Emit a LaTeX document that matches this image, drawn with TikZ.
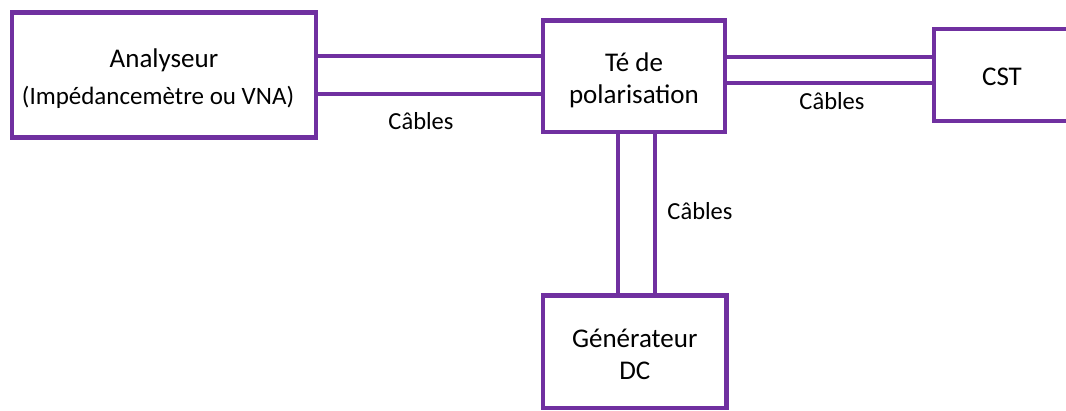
\documentclass[tikz,border=0pt]{standalone}
\usepackage{fontspec}
\setmainfont{Carlito}
\usepackage{xcolor}
\usepackage{tikz}
\usetikzlibrary{positioning, calc}
\definecolor{boxPurple}{RGB}{112, 48, 160}

\begin{document}
\begin{tikzpicture}[
    x=1pt, y=-1pt,
    font=\fontsize{27}{32}\selectfont,
    blk/.style={rectangle, draw=boxPurple, line width=4.5pt, align=center,
        fill=white, inner sep=0pt},
    cable/.style={draw=boxPurple, line width=4.5pt},
    lbl/.style={font=\fontsize{24.5}{29}\selectfont}
]
\useasboundingbox (0,0) rectangle (1066,410);

\node[blk, minimum width=304pt, minimum height=125pt] (ana) at (164,75)
    {\rule{0pt}{27pt}Analyseur\\[5pt]{\fontsize{25}{30}\selectfont (Impédancemètre ou VNA)\hspace*{12pt}}};
\node[blk, minimum width=182pt, minimum height=111.5pt] (te)  at (634,76.25) {\rule{0pt}{26pt}Té de\\polarisation};
\node[blk, minimum width=136pt, minimum height=92pt]    (cst) at (1002,75)   {\rule{0pt}{21pt}CST};
\node[blk, minimum width=183.5pt, minimum height=112.5pt] (gen) at (634.75,351.75) {\rule{0pt}{23pt}Générateur\\DC};

% cables
\foreach \dy in {19, -19}
    \draw[cable] ([yshift=\dy pt]ana.east) -- ([yshift=\dy pt]ana.east -| te.west);
\foreach \dy in {18, -8}
    \draw[cable] ([yshift=\dy pt]cst.west -| te.east) -- ([yshift=\dy pt]cst.west);
\foreach \dx in {-16, 21}
    \draw[cable] ([xshift=\dx pt]te.south) -- ([xshift=\dx pt]te.south |- gen.north);

\node[lbl] (lblA) at (421,121) {Câbles};
\node[lbl] (lblC) at (832,101) {Câbles};
\node[lbl] (lblG) at (700,211) {Câbles};
\end{tikzpicture}
\end{document}
